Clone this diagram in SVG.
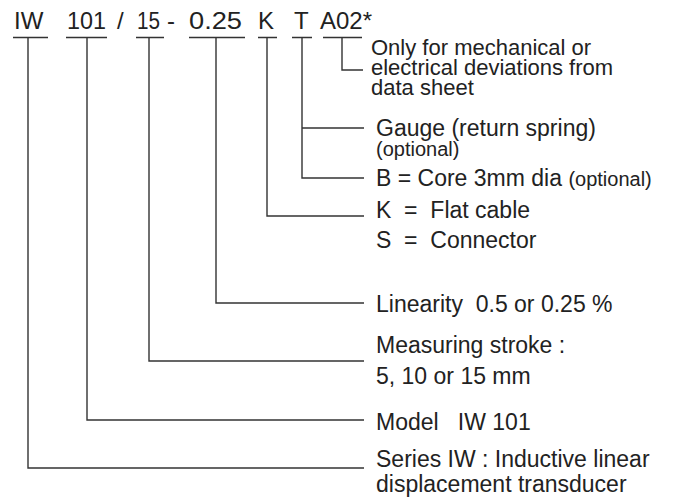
<svg xmlns="http://www.w3.org/2000/svg" width="675" height="501" viewBox="0 0 675 501">
<style>
text{font-family:"Liberation Sans",Arial,sans-serif;fill:#222;font-size:23px;white-space:pre}
.t{font-size:24px}
.a{font-size:22px}
.s{font-size:20px}
.ln{fill:none;stroke:#333;stroke-width:1.4}
</style>
<rect width="675" height="501" fill="#fff"/>
<g id="code">
<text class="t" x="14" y="29">IW</text>
<text class="t" x="67" y="29" textLength="39" lengthAdjust="spacingAndGlyphs">101</text>
<text class="t" x="117" y="29">/</text>
<text class="t" x="137" y="29" textLength="23" lengthAdjust="spacingAndGlyphs">15</text>
<text class="t" x="167" y="29">-</text>
<text class="t" x="189" y="29" textLength="53" lengthAdjust="spacingAndGlyphs">0.25</text>
<text class="t" x="258" y="29">K</text>
<text class="t" x="294" y="29">T</text>
<text class="t" x="320" y="29">A02*</text>
</g>
<g id="connectors" class="ln">
<path d="M13 37.5H48M66 37.5H107M136 37.5H164M189 37.5H245M258 37.5H277M292 37.5H312M323 37.5H362"/>
<path d="M342 37.5V70H363"/>
<path d="M302 37.5V178H364M302 128H364"/>
<path d="M267 37.5V216H364"/>
<path d="M216 37.5V303H364"/>
<path d="M149 37.5V361H364"/>
<path d="M87 37.5V420H364"/>
<path d="M28 37.5V468H364"/>
</g>
<g id="a02">
<text class="a" x="371" y="55">Only for mechanical or</text>
<text class="a" x="371" y="75">electrical deviations from</text>
<text class="a" x="371" y="95">data sheet</text>
</g>
<g id="t-gauge">
<text x="376" y="136">Gauge (return spring)</text>
<text x="376" y="156" class="s">(optional)</text>
</g>
<g id="t-b">
<text x="376" y="186">B = Core 3mm dia <tspan class="s">(optional)</tspan></text>
</g>
<g id="k">
<text x="376" y="218">K  =  Flat cable</text>
<text x="376" y="248">S  =  Connector</text>
</g>
<g id="linearity">
<text x="376" y="312">Linearity  0.5 or 0.25 %</text>
</g>
<g id="stroke">
<text x="376" y="353">Measuring stroke :</text>
<text x="376" y="384">5, 10 or 15 mm</text>
</g>
<g id="model">
<text x="376" y="430">Model   IW 101</text>
</g>
<g id="series">
<text x="376" y="467">Series IW : Inductive linear</text>
<text x="376" y="492">displacement transducer</text>
</g>
</svg>
